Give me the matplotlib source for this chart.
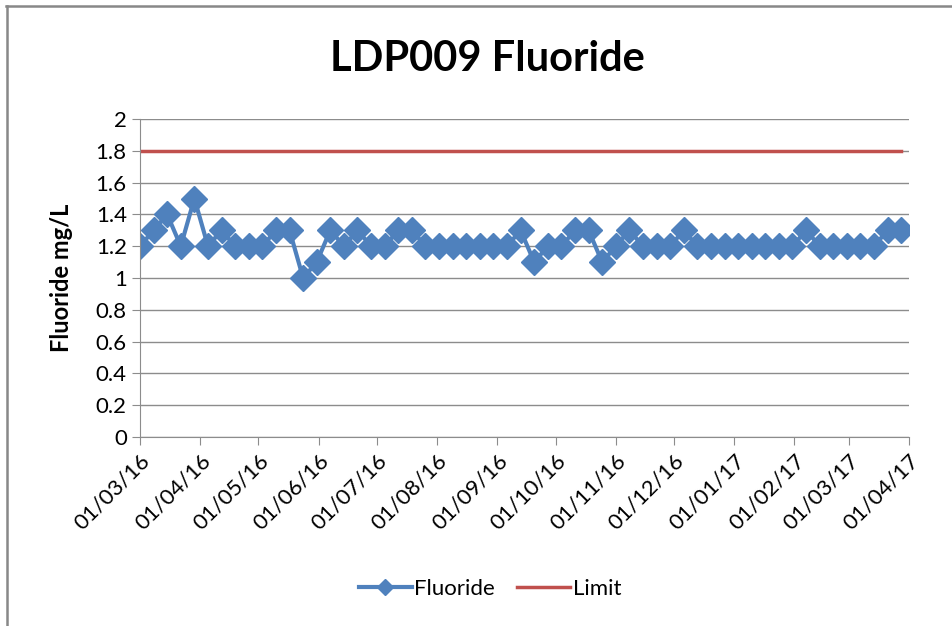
import matplotlib.pyplot as plt
import matplotlib.dates as mdates
from matplotlib.lines import Line2D
import numpy as np
import pandas as pd

plt.rcParams['font.family'] = ['Lato', 'DejaVu Sans']

# sample dates (weekly) and fluoride readings, mg/L
dates = ['2016-03-01', '2016-03-08', '2016-03-15', '2016-03-22', '2016-03-29',
         '2016-04-05', '2016-04-12', '2016-04-19', '2016-04-26', '2016-05-03',
         '2016-05-10', '2016-05-17', '2016-05-24', '2016-05-31', '2016-06-07',
         '2016-06-14', '2016-06-21', '2016-06-28', '2016-07-05', '2016-07-12',
         '2016-07-19', '2016-07-26', '2016-08-02', '2016-08-09', '2016-08-16',
         '2016-08-23', '2016-08-30', '2016-09-06', '2016-09-13', '2016-09-20',
         '2016-09-27', '2016-10-04', '2016-10-11', '2016-10-18', '2016-10-25',
         '2016-11-01', '2016-11-08', '2016-11-15', '2016-11-22', '2016-11-29',
         '2016-12-06', '2016-12-13', '2016-12-20', '2016-12-27', '2017-01-03',
         '2017-01-10', '2017-01-17', '2017-01-24', '2017-01-31', '2017-02-07',
         '2017-02-14', '2017-02-21', '2017-02-28', '2017-03-07', '2017-03-14',
         '2017-03-21', '2017-03-28']
fluoride = [1.2, 1.3, 1.4, 1.2, 1.5, 1.2, 1.3, 1.2, 1.2, 1.2,
            1.3, 1.3, 1.0, 1.1, 1.3, 1.2, 1.3, 1.2, 1.2, 1.3,
            1.3, 1.2, 1.2, 1.2, 1.2, 1.2, 1.2, 1.2, 1.3, 1.1,
            1.2, 1.2, 1.3, 1.3, 1.1, 1.2, 1.3, 1.2, 1.2, 1.2,
            1.3, 1.2, 1.2, 1.2, 1.2, 1.2, 1.2, 1.2, 1.2, 1.3,
            1.2, 1.2, 1.2, 1.2, 1.2, 1.3, 1.3]
limit = [1.8] * len(dates)
x_start, x_end = '2016-03-01', '2017-04-01'
yticks = [0, 0.2, 0.4, 0.6, 0.8, 1, 1.2, 1.4, 1.6, 1.8, 2]

d = pd.to_datetime(dates)

fig = plt.figure(figsize=(9.53, 6.26), dpi=100)
ax = fig.add_axes([140/953, 1-437/626, 769/953, 318/626])

ax.plot(d, fluoride, color='#4F81BD', lw=3, marker='D', ms=13, label='Fluoride')
ax.plot(d, limit, color='#C0504D', lw=2.5, label='Limit')

ax.set_ylim(0, 2)
ax.set_yticks(yticks)
ax.set_yticklabels([f'{v:g}' for v in yticks])
ax.set_xlim(pd.Timestamp(x_start), pd.Timestamp(x_end))
ax.xaxis.set_major_locator(mdates.MonthLocator())
ax.xaxis.set_major_formatter(mdates.DateFormatter('%d/%m/%y'))
plt.setp(ax.get_xticklabels(), rotation=45, ha='right', rotation_mode='anchor')

ax.grid(axis='y', color='#8c8c8c', lw=1)
ax.set_axisbelow(True)
for s in ['top', 'right']:
    ax.spines[s].set_visible(False)
for s in ['left', 'bottom']:
    ax.spines[s].set_color('#8c8c8c')
ax.tick_params(colors='#8c8c8c', labelcolor='black', labelsize=16, length=6, direction='out')

ax.set_ylabel('Fluoride mg/L', fontsize=17, fontweight='bold', labelpad=16)
fig.text(0.511, 0.905, 'LDP009 Fluoride', fontsize=30, fontweight='bold', ha='center', va='center')

fig.legend(handles=ax.get_lines(), loc='center', bbox_to_anchor=(0.514, 1-589/626),
           ncol=2, frameon=False, fontsize=16, markerscale=0.6, handlelength=2.4,
           columnspacing=1.0, handletextpad=0.1)

# chart frame (top and left edges)
fig.add_artist(Line2D([6/953, 1], [1-6/626, 1-6/626], color='#888888', lw=1.8))
fig.add_artist(Line2D([7/953, 7/953], [0, 1-6/626], color='#888888', lw=1.8))

fig.savefig('out.png', dpi=100)
